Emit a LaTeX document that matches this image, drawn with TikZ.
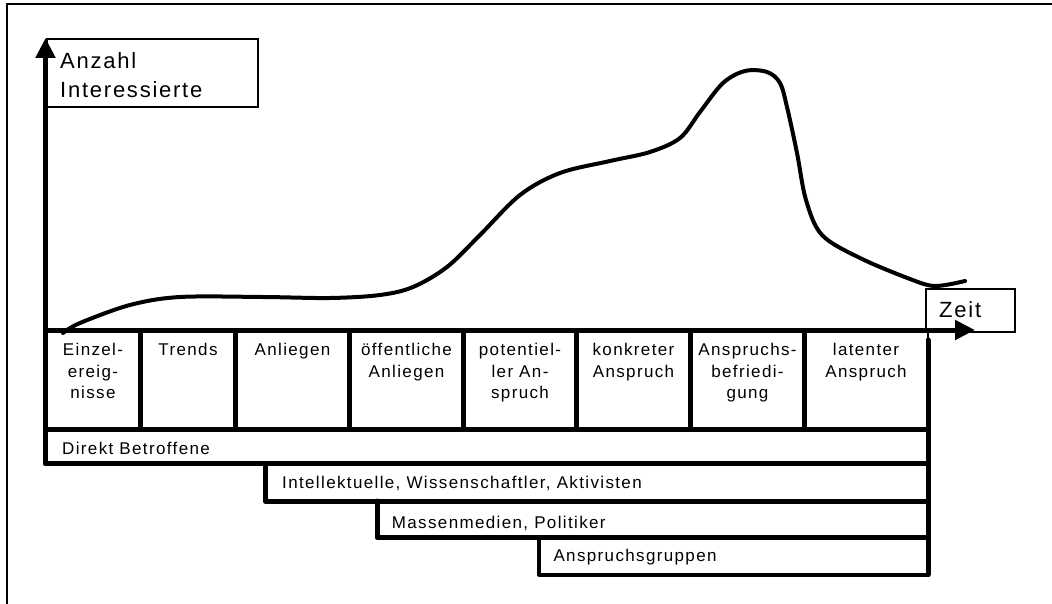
\documentclass[tikz,border=0pt]{standalone}
\usepackage{fontspec}
\setmainfont{Liberation Sans}[LetterSpace=8]
\usetikzlibrary{arrows.meta}

\begin{document}
\begin{tikzpicture}[x=1pt,y=-1pt,
  heavy/.style={line width=5pt, line cap=round, line join=round},
  frameline/.style={line width=2pt},
  thinbox/.style={draw, line width=2pt, inner sep=0pt},
  celltext/.style={font=\fontsize{17}{21.7}\selectfont, align=center, anchor=north, inner sep=0pt},
  rowtext/.style={font=\fontsize{17}{21.7}\selectfont, anchor=base west, inner sep=0pt},
  bigtext/.style={font=\fontsize{22}{29}\selectfont, inner sep=0pt},
  axis/.style={line width=5pt, -{Triangle[length=20pt,width=19pt]}},
  curve/.style={line width=4pt, line cap=round, line join=round}
]
\useasboundingbox (0,0) rectangle (1052,604);

% outer frame (open at right and bottom)
\draw[frameline] (7,604) -- (7,4.5) -- (1052,4.5);

% axis labels in boxes
\node[thinbox, anchor=north west, minimum width=211.5pt, minimum height=68pt] (ybox) at (45.5,38.5) {};
\node[bigtext, anchor=north west, align=left] (ylabel) at (60,52.2) {Anzahl\\Interessierte};
\node[thinbox, anchor=north west, minimum width=89pt, minimum height=43pt] (xbox) at (925,288) {};
\node[bigtext, anchor=base west] (xlabel) at (939,317) {Zeit};

% axes
\coordinate (origin) at (45.5,330);
\coordinate (ytip) at (45.5,38);
\coordinate (xtip) at (975,330);
\draw[axis] (origin) -- (ytip);
\draw[axis] (origin) -- (xtip);

% phase cells
\draw[heavy] (origin) -- (45.5,463.5);
\foreach \x in {140.5,235.5,349.5,463.5,576.5,690.5,804.5}
  \draw[line width=5pt] (\x,330) -- (\x,429);
\draw[line width=2pt] (928,330) -- (928,342);
\draw[heavy] (928,340) -- (928,574.5);
\draw[heavy] (45.5,429) -- (928,429);
\draw[heavy] (45.5,463.5) -- (928,463.5);

\node[celltext] (c1) at (93,342.8)    {Einzel-\\ereig-\\nisse};
\node[celltext] (c2) at (188,342.8)   {Trends};
\node[celltext] (c3) at (292.5,342.8) {Anliegen};
\node[celltext] (c4) at (406.5,342.8) {öffentliche\\Anliegen};
\node[celltext] (c5) at (520,342.8)   {potentiel-\\ler An-\\spruch};
\node[celltext] (c6) at (633.5,342.8) {konkreter\\Anspruch};
\node[celltext] (c7) at (747.5,342.8) {Anspruchs-\\befriedi-\\gung};
\node[celltext] (c8) at (866,342.8)   {latenter\\Anspruch};

% groups of actors, stepping in over time
\node[rowtext] (g1) at (62,454)    {Direkt Betroffene};
\draw[heavy] (265,463.5) -- (265,501) -- (928,501);
\node[rowtext] (g2) at (282,488.3) {Intellektuelle, Wissenschaftler, Aktivisten};
\draw[heavy] (377,501) -- (377,537.5) -- (928,537.5);
\node[rowtext] (g3) at (391.7,528.3) {Massenmedien, Politiker};
\draw[heavy, line width=4pt] (539,537.5) -- (539,574.5) -- (928,574.5);
\node[rowtext] (g4) at (553.3,561.7) {Anspruchsgruppen};

% issue life cycle curve
\draw[curve] plot[smooth, tension=0.55] coordinates {
  (63,333) (80,323) (130,305) (180,297) (263,297) (330,298) (380,295)
  (413,287) (447,267) (480,235) (520,195) (560,173) (610,161) (650,152)
  (680,138) (700,112) (723,83) (745,71) (767,72) (780,83) (787,107)
  (797,153) (806,200) (822,235) (860,258) (910,279) (935,286) (965,281)};
\end{tikzpicture}
\end{document}
